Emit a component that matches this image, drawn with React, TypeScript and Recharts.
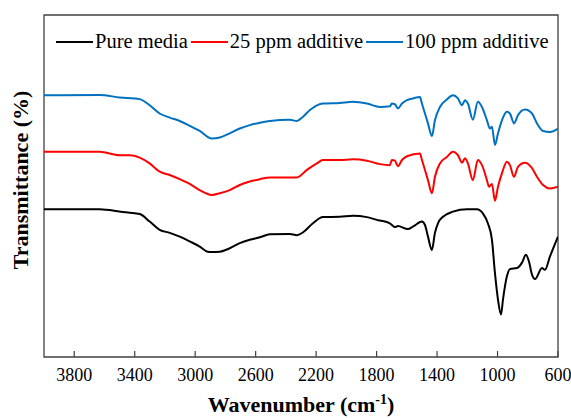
import React from 'react';
import { LineChart, Line, XAxis, YAxis, Legend, ReferenceArea } from 'recharts';

// wavenumber (cm-1) and transmittance readings for each spectrum
const pureWn = [4000, 3632, 3479, 3433, 3367, 3301, 3235, 3168, 3102, 3036, 2970, 2917, 2890, 2837, 2771, 2705, 2639, 2572, 2506, 2374, 2328, 2288, 2221, 2155, 2043, 1957, 1864, 1798, 1778, 1712, 1679, 1659, 1593, 1560, 1500, 1480, 1460, 1434, 1414, 1394, 1361, 1295, 1202, 1136, 1097, 1064, 1037, 1017, 997, 977, 964, 938, 918, 871, 838, 812, 792, 772, 752, 706, 686, 653, 600];
const pureT = [43.2, 43.2, 42.4, 42.2, 41.8, 39.6, 37.2, 36.3, 35.2, 33.8, 32.3, 30.8, 30.7, 30.8, 31.8, 33.3, 34.3, 35.0, 35.9, 36.0, 35.6, 36.4, 39.1, 40.9, 41.0, 41.3, 40.9, 40.1, 39.9, 39.1, 38.0, 38.3, 37.4, 38.1, 39.6, 38.6, 35.2, 31.3, 36.3, 39.1, 41.0, 42.5, 43.2, 43.2, 42.0, 39.1, 34.3, 24.5, 16.8, 12.4, 16.8, 23.6, 25.7, 26.0, 27.6, 29.9, 27.9, 24.1, 22.8, 26.0, 25.5, 29.4, 35.2];

const ppm25Wn = [4000, 3632, 3499, 3433, 3367, 3301, 3235, 3168, 3102, 3036, 2970, 2890, 2837, 2771, 2705, 2639, 2572, 2506, 2374, 2328, 2261, 2195, 2155, 2043, 1957, 1864, 1778, 1712, 1699, 1679, 1659, 1632, 1599, 1513, 1500, 1480, 1460, 1434, 1414, 1381, 1335, 1295, 1262, 1235, 1215, 1196, 1163, 1130, 1103, 1070, 1057, 1037, 1017, 997, 971, 938, 918, 891, 865, 818, 772, 739, 699, 653, 600];
const ppm25T = [60.0, 60.0, 59.0, 59.0, 58.3, 56.6, 54.2, 53.2, 52.0, 50.6, 48.8, 47.4, 47.9, 48.8, 50.3, 51.3, 52.0, 52.5, 52.5, 52.5, 54.7, 56.6, 57.6, 57.6, 57.8, 57.4, 56.4, 56.1, 57.6, 57.4, 55.8, 57.6, 58.7, 59.5, 57.6, 54.7, 51.7, 47.9, 52.7, 56.6, 58.5, 60.0, 59.0, 56.8, 58.1, 56.6, 51.7, 57.6, 56.1, 51.7, 49.8, 50.6, 45.7, 49.8, 53.7, 57.1, 56.1, 52.7, 55.6, 56.8, 55.2, 52.7, 50.3, 49.3, 49.8];

const ppm100Wn = [4000, 3632, 3499, 3367, 3301, 3235, 3168, 3102, 3036, 2970, 2890, 2837, 2771, 2705, 2639, 2572, 2506, 2374, 2328, 2288, 2241, 2155, 2043, 1957, 1864, 1778, 1712, 1699, 1679, 1659, 1632, 1599, 1560, 1513, 1500, 1480, 1460, 1434, 1414, 1381, 1335, 1295, 1262, 1235, 1215, 1196, 1163, 1130, 1103, 1070, 1050, 1037, 1017, 997, 971, 938, 918, 891, 865, 818, 772, 739, 699, 653, 600];
const ppm100T = [76.5, 76.6, 75.9, 75.4, 73.6, 71.2, 70.0, 69.0, 67.6, 66.1, 63.9, 64.2, 65.4, 66.8, 67.8, 68.5, 69.0, 69.4, 69.0, 70.2, 72.2, 74.1, 74.3, 74.6, 74.1, 73.1, 73.3, 74.1, 73.9, 72.7, 74.1, 75.1, 75.6, 76.0, 74.1, 71.2, 68.3, 64.6, 69.2, 73.1, 75.3, 76.5, 75.6, 73.6, 75.1, 74.1, 69.4, 74.6, 73.1, 69.2, 66.8, 67.3, 62.0, 65.4, 69.2, 71.7, 71.2, 68.3, 70.7, 72.4, 71.2, 68.3, 66.1, 65.8, 66.8];

const wnTicks = [3800, 3400, 3000, 2600, 2200, 1800, 1400, 1000, 600];

const FONT = '"Liberation Serif", "Times New Roman", Times, serif';
const FRAME = '#404040';

const toRows = (wn: number[], t: number[]) => wn.map((w, i) => ({ wn: w, t: t[i] }));

const series = [
  { name: 'Pure media', color: '#000000', data: toRows(pureWn, pureT) },
  { name: '25 ppm additive', color: '#FF0000', data: toRows(ppm25Wn, ppm25T) },
  { name: '100 ppm additive', color: '#0070C0', data: toRows(ppm100Wn, ppm100T) },
];

const WnTick = (props: any) => {
  const { x, y, payload } = props;
  return (
    <g>
      <line x1={x} x2={x} y1={y} y2={y - 6} stroke={FRAME} strokeWidth={1.2} />
      <text x={x} y={y + 24} textAnchor="middle" fontFamily={FONT} fontSize={18} fill="#000">
        {payload.value}
      </text>
    </g>
  );
};

const LegendRow = () => (
  <div style={{ display: 'flex', alignItems: 'center', fontFamily: FONT, fontSize: 20.5, color: '#000', whiteSpace: 'nowrap' }}>
    {series.map(s => (
      <span key={s.name} style={{ display: 'flex', alignItems: 'center', marginRight: 3 }}>
        <span style={{ display: 'inline-block', width: 37, height: 2, background: s.color, marginRight: 2 }} />
        {s.name}
      </span>
    ))}
  </div>
);

const App = () => {
  return (
    <div>
      <style>{'body{margin:0}'}</style>
      <LineChart width={571} height={418} margin={{ top: 15, right: 13, bottom: 0, left: 43 }}>
        <XAxis
          type="number"
          dataKey="wn"
          domain={[600, 4000]}
          reversed
          ticks={wnTicks}
          allowDataOverflow
          height={61}
          axisLine={false}
          tickLine={false}
          tickSize={0}
          tickMargin={0}
          tick={<WnTick />}
          label={{
            content: () => (
              <text x={301} y={412} textAnchor="middle" fontFamily={FONT} fontSize={22} fontWeight="bold" fill="#000">
                Wavenumber (cm
                <tspan fontSize={14} dy={-8}>-1</tspan>
                <tspan dy={8}>)</tspan>
              </text>
            ),
          }}
        />
        <YAxis
          type="number"
          domain={[0, 100]}
          width={1}
          tick={false}
          axisLine={false}
          tickLine={false}
          label={{
            content: () => (
              <text
                x={28}
                y={180}
                transform="rotate(-90, 28, 180)"
                textAnchor="middle"
                fontFamily={FONT}
                fontSize={22}
                fontWeight="bold"
                fill="#000"
              >
                Transmittance (%)
              </text>
            ),
          }}
        />
        <ReferenceArea x1={4000} x2={600} y1={0} y2={100} fill="none" stroke={FRAME} strokeWidth={1.3} ifOverflow="visible" />
        {series.map(s => (
          <Line
            key={s.name}
            data={s.data}
            dataKey="t"
            name={s.name}
            type="monotone"
            stroke={s.color}
            strokeWidth={2}
            dot={false}
            isAnimationActive={false}
          />
        ))}
        <Legend
          layout="horizontal"
          verticalAlign="middle"
          align="center"
          wrapperStyle={{ top: 30, left: 56, width: 510 }}
          content={() => <LegendRow />}
        />
      </LineChart>
    </div>
  );
};

export default App;
